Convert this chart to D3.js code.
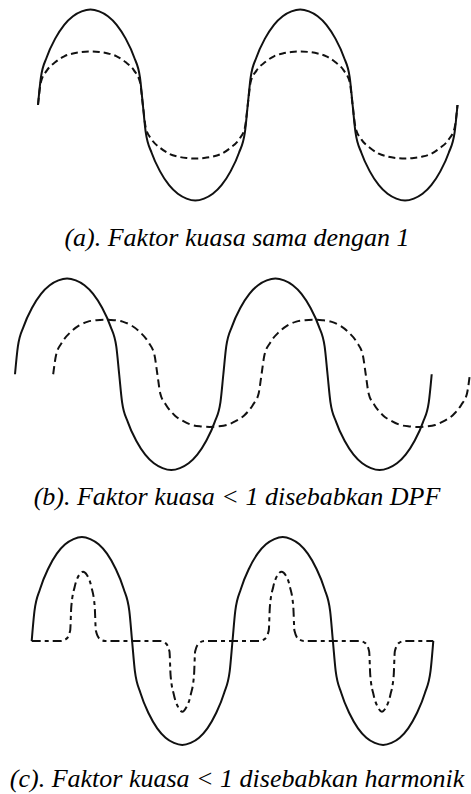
<!DOCTYPE html>
<html>
<head>
<meta charset="utf-8">
<script src="https://cdn.jsdelivr.net/npm/d3@7"></script>
</head>
<body style="margin:0">
<svg id="chart" width="471" height="794"></svg>
<script>
// ---- Data (phase in electrical degrees, value in per-unit of source voltage amplitude) ----
const phase = [0,5,15,30,45,60,75,90,105,120,135,150,165,175,
  180,185,195,210,225,240,255,270,285,300,315,330,345,355,
  360,365,375,390,405,420,435,450,465,480,495,510,525,535,
  540,545,555,570,585,600,615,630,645,660,675,690,705,715,720];

const voltage = [0,0.29,0.5,0.7,0.84,0.93,0.98,1,0.98,0.93,0.84,0.7,0.5,0.29,
  0,-0.29,-0.5,-0.7,-0.84,-0.93,-0.98,-1,-0.98,-0.93,-0.84,-0.7,-0.5,-0.29,
  0,0.29,0.5,0.7,0.84,0.93,0.98,1,0.98,0.93,0.84,0.7,0.5,0.29,
  0,-0.29,-0.5,-0.7,-0.84,-0.93,-0.98,-1,-0.98,-0.93,-0.84,-0.7,-0.5,-0.29,0];

// (a) current in phase with voltage
const currentA = [0,0.24,0.36,0.45,0.51,0.54,0.555,0.56,0.555,0.54,0.51,0.45,0.36,0.24,
  0,-0.24,-0.36,-0.45,-0.51,-0.54,-0.555,-0.56,-0.555,-0.54,-0.51,-0.45,-0.36,-0.24,
  0,0.24,0.36,0.45,0.51,0.54,0.555,0.56,0.555,0.54,0.51,0.45,0.36,0.24,
  0,-0.24,-0.36,-0.45,-0.51,-0.54,-0.555,-0.56,-0.555,-0.54,-0.51,-0.45,-0.36,-0.24,0];

// (b) current lagging the voltage (displacement)
const phaseCurrentB = [66,71,81,96,111,126,141,156,171,186,201,216,231,241,
  246,251,261,276,291,306,321,336,351,366,381,396,411,421,
  426,431,441,456,471,486,501,516,531,546,561,576,591,601,
  606,611,621,636,651,666,681,696,711,726,741,756,771,781,786];
const currentB = [0,0.2,0.33,0.44,0.51,0.55,0.565,0.57,0.565,0.55,0.51,0.44,0.33,0.2,
  0,-0.2,-0.32,-0.43,-0.49,-0.53,-0.545,-0.55,-0.545,-0.53,-0.49,-0.43,-0.32,-0.2,
  0,0.2,0.33,0.44,0.51,0.55,0.565,0.57,0.565,0.55,0.51,0.44,0.33,0.2,
  0,-0.2,-0.32,-0.43,-0.49,-0.53,-0.545,-0.55,-0.545,-0.53,-0.49,-0.43,-0.32,-0.2,0];

// (c) harmonic (pulse) current
const phaseCurrentC = [0, 52,62,69,71,77,85,92,99,107,113,115,122,132,
  180, 230,240,247,249,255,263,270,277,285,291,293,300,310,
  360, 408,418,425,427,433,441,448,455,463,469,471,478,488,
  540, 588,598,605,607,613,621,628,635,643,649,651,658,668, 720];
const currentC = [0, 0,0.02,0.1,0.33,0.52,0.635,0.666,0.635,0.52,0.33,0.1,0.02,0,
  0, 0,-0.02,-0.1,-0.33,-0.52,-0.64,-0.68,-0.64,-0.52,-0.33,-0.1,-0.02,0,
  0, 0,0.02,0.1,0.33,0.52,0.635,0.666,0.635,0.52,0.33,0.1,0.02,0,
  0, 0,-0.02,-0.1,-0.33,-0.52,-0.64,-0.68,-0.64,-0.52,-0.33,-0.1,-0.02,0, 0];

const captions = [
  "(a). Faktor kuasa sama dengan 1",
  "(b). Faktor kuasa < 1 disebabkan DPF",
  "(c). Faktor kuasa < 1 disebabkan harmonik"
];

// ---- Layout ----
const svg = d3.select("#chart");

// captions first (serif italic, Times-like)
const capY = [246, 505, 787];
captions.forEach((c, i) => {
  svg.append("text")
    .attr("x", 237)
    .attr("y", capY[i])
    .attr("text-anchor", "middle")
    .attr("font-family", "Liberation Serif")
    .attr("font-style", "italic")
    .attr("font-size", 26)
    .style("font-family", '"Liberation Serif", "Times New Roman", Tinos, "Nimbus Roman", serif')
    .style("font-style", "italic")
    .style("font-size", "26px")
    .text(c);
});

const panels = [
  { x: [38, 457.5], y: [200.5, 9.5],
    series: [
      { ph: phase, val: voltage, dash: null },
      { ph: phase, val: currentA, dash: "7,4" }
    ] },
  { x: [15, 431.7], y: [470, 278.5],
    series: [
      { ph: phase, val: voltage, dash: null },
      { ph: phaseCurrentB, val: currentB, dash: "8,4.5" }
    ] },
  { x: [31.7, 433.3], y: [745, 537],
    series: [
      { ph: phase, val: voltage, dash: null },
      { ph: phaseCurrentC, val: currentC, dash: "9,4,4,4" }
    ] }
];

panels.forEach(p => {
  const xs = d3.scaleLinear().domain([0, 720]).range(p.x);
  const ys = d3.scaleLinear().domain([-1, 1]).range(p.y);
  const line = d3.line()
    .x(d => xs(d[0]))
    .y(d => ys(d[1]))
    .curve(d3.curveMonotoneX);
  const g = svg.append("g");
  p.series.forEach(s => {
    const pts = s.ph.map((t, k) => [t, s.val[k]]);
    g.append("path")
      .attr("d", line(pts))
      .attr("fill", "none")
      .attr("stroke", "#111")
      .attr("stroke-width", 2)
      .attr("stroke-dasharray", s.dash)
      .attr("stroke-linejoin", "round");
  });
});
</script>
</body>
</html>
